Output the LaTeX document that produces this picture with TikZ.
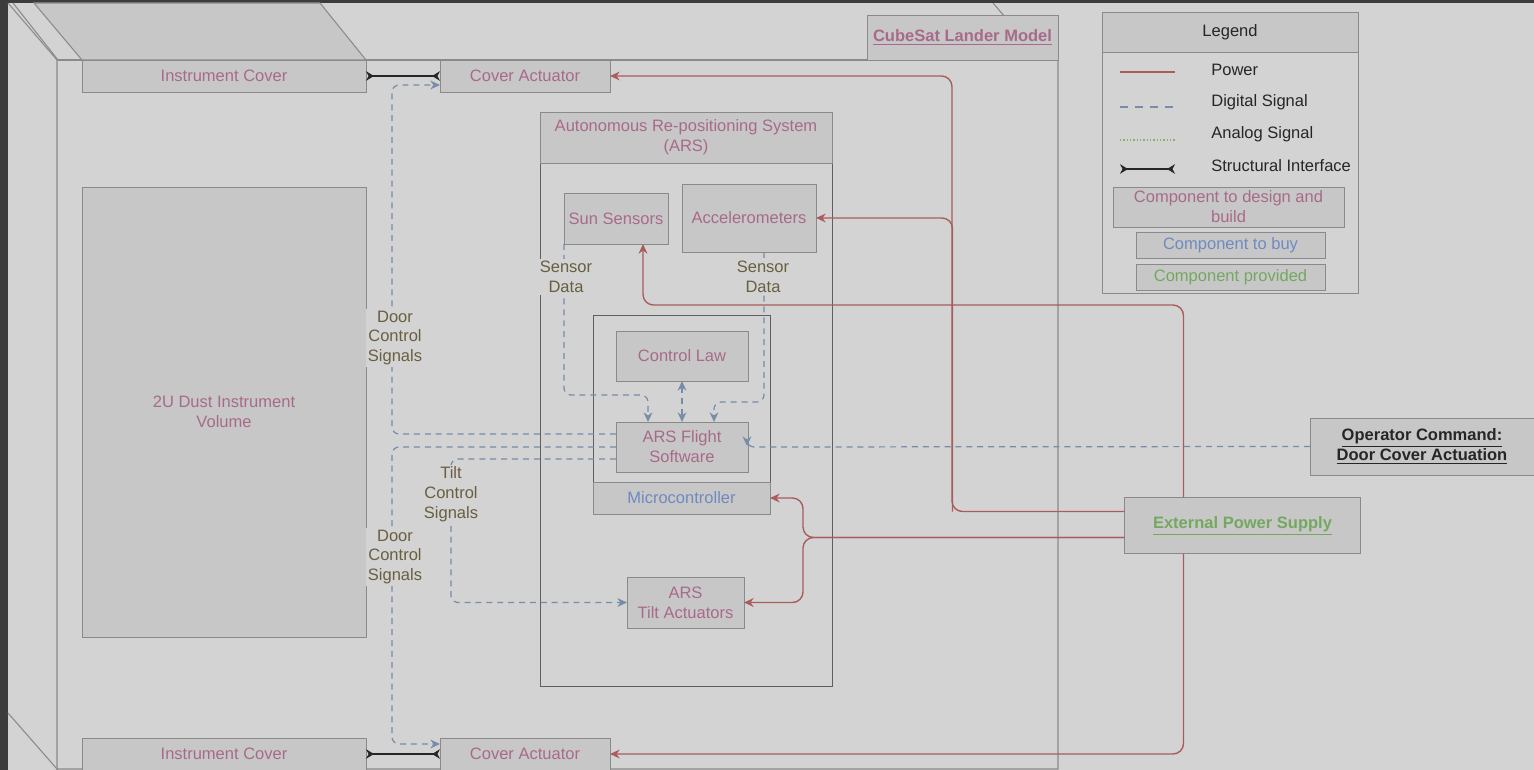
\documentclass[tikz,border=0pt]{standalone}
\usepackage{fontspec}
\setmainfont{Liberation Sans}
\usepackage{xcolor}
\usetikzlibrary{arrows.meta,calc,positioning}

\definecolor{frame}{RGB}{60,60,60}
\definecolor{canvas}{RGB}{211,211,211}
\definecolor{boxgray}{RGB}{199,199,199}
\definecolor{edgegray}{RGB}{138,138,138}
\definecolor{darkedge}{RGB}{95,95,95}
\definecolor{design}{RGB}{168,106,138}
\definecolor{buy}{RGB}{112,138,192}
\definecolor{provided}{RGB}{116,168,96}
\definecolor{powerred}{RGB}{170,92,92}
\definecolor{digiblue}{RGB}{118,140,168}
\definecolor{analoggreen}{RGB}{128,178,108}
\definecolor{labelolive}{RGB}{104,94,64}

\tikzset{%
	boxsize/.style 2 args = {minimum width=#1*0.02cm, minimum height=#2*0.02cm},
	comp/.style      = {draw=edgegray, fill=boxgray, inner sep=0pt, outer sep=0pt, text=design, align=center},
	container/.style = {draw=darkedge, inner sep=0pt, outer sep=0pt},
	sig/.style       = {fill=canvas, text=labelolive, align=center, inner sep=1pt},
	power/.style     = {draw=powerred, line width=0.8pt, rounded corners=6pt, -{Stealth[length=5.5pt,width=5pt]}},
	digital/.style   = {draw=digiblue, line width=0.7pt, dash pattern=on 3.4pt off 2.8pt, rounded corners=4pt, -{Stealth[length=5.5pt,width=5pt]}},
	analog/.style    = {draw=analoggreen, line width=1pt, dash pattern=on 0.8pt off 1.1pt},
	struct/.style    = {draw=black!85, line width=0.8pt, {Stealth[reversed,length=4.5pt,width=5.5pt]}-{Stealth[reversed,length=4.5pt,width=5.5pt]}},
	edge/.style      = {draw=edgegray, line width=0.6pt},
}

\begin{document}
\begin{tikzpicture}[x=0.02cm, y=-0.02cm, font=\fontsize{9.4}{11.3}\selectfont]
	\useasboundingbox (0,0) rectangle (1534,770);
	\fill[frame] (0,0) rectangle (1534,770);
	\fill[canvas] (8,3) rectangle (1534,770);
	
	% lander cube
	\draw[edge] (8,3) -- (57,60) -- (57,770);
	\draw[edge] (13,3) -- (58,60);
	\draw[edge] (8,713) -- (57,769) -- (1058,769) -- (1058,60);
	\draw[edge] (57,60) -- (867,60);
	\draw[edge] (993,3) -- (1040,58);
	\filldraw[edge, fill=boxgray] (34,3) -- (320,3) -- (366,60) -- (82,60) -- cycle;  % cover top face
	\node (tab) [comp, boxsize={191}{45}] at (962.5,37.5) {\underline{\textbf{CubeSat Lander Model}}};
	
	% components
	\node (ictop) [comp, boxsize={284}{32}] at (224,76) {Instrument Cover};
	\node (icbot) [comp, boxsize={284}{32}] at (224,754) {Instrument Cover};
	\node (catop) [comp, boxsize={170}{32}] at (525,76) {Cover Actuator};
	\node (cabot) [comp, boxsize={170}{32}] at (525,754) {Cover Actuator};
	\node (dust)  [comp, boxsize={284}{450}] at (224,412) {2U Dust Instrument\\Volume};
	
	\node (ars) [container, boxsize={292}{574}] at (686,399) {};
	\node (arshead) [comp, boxsize={292}{51}, below=0pt of ars.north] {Autonomous Re-positioning System\\(ARS)};
	\node (sun) [comp, boxsize={104}{51}] at (616,218.5) {Sun Sensors};
	\node (acc) [comp, boxsize={134}{68}] at (749,218) {Accelerometers};
	\node (mcu) [container, boxsize={177}{199}] at (681.5,414.5) {};
	\node (mcuband) [comp, boxsize={177}{32}, text=buy, above=0pt of mcu.south] {Microcontroller};
	\node (law) [comp, boxsize={132}{50}] at (682,356) {Control Law};
	\node (fsw) [comp, boxsize={132}{50}] at (682,447) {ARS Flight\\Software};
	\node (tilt) [comp, boxsize={117}{51}] at (685.5,602.5) {ARS\\Tilt Actuators};
	
	\node (op) [comp, boxsize={224}{57}, text=black!85] at (1422,446.5) {\textbf{\underline{Operator Command:}}\\\textbf{\underline{Door Cover Actuation}}};
	\node (eps) [comp, boxsize={236}{56}, text=provided] at (1242.5,525.5) {\textbf{\underline{External Power Supply}}};
	
	% legend
	\node (legend) [container, draw=edgegray, boxsize={256}{281}] at (1230,152.5) {};
	\node (leghead) [comp, boxsize={256}{40}, text=black!85, below=0pt of legend.north] {Legend};
	\foreach \y/\txt in {70/Power, 102/Digital Signal, 134/Analog Signal, 166/Structural Interface}
		\node (leg\y) [anchor=west, text=black!85, inner sep=0pt] at (1211,\y) {\txt};
	\draw[power, -] (1120,72) -- ++(55,0);
	\draw[digital, -, dash pattern=on 4.5pt off 4pt] (1120,107) -- ++(55,0);
	\draw[analog] (1120,140) -- ++(55,0);
	\draw[struct] (1120,169) -- ++(55,0);
	\node (legdesign) [comp, boxsize={231}{40}] at (1228.5,207) {Component to design and\\build};
	\node (legbuy) [comp, boxsize={189}{26}, text=buy] at (1230.5,245) {Component to buy};
	\node (legprov) [comp, boxsize={189}{26}, text=provided] at (1230.5,277) {Component provided};
	
	% structural interfaces
	\draw[struct] (ictop.east) -- (catop.west);
	\draw[struct] (icbot.east) -- (cabot.west);
	
	% power
	\draw[power] ($(eps.west)+(0,-14)$) -| ($(catop.east)+(342,0)$) -- (catop.east);
	\draw[power] ($(eps.west)+(-172,-14)$) |- (acc.east);
	\draw[power] ($(eps.north)+(-59,0)$) |- ($(sun.south)+(27,61)$) -- ($(sun.south)+(27,0)$);
	\draw[power] ($(eps.south)+(-59,0)$) |- (cabot.east);
	\draw[power] ($(eps.west)+(0,12)$) -| ($(mcuband.east)+(33,0)$) -- (mcuband.east);
	\draw[power] ($(eps.west)+(0,12)$) -| ($(tilt.east)+(59,0)$) -- (tilt.east);
	
	% digital signals
	\draw[digital] ($(fsw.west)+(0,-13)$) -| ($(catop.west)+(-48,9)$) -- ($(catop.west)+(0,9)$);
	\draw[digital] (fsw.west) -| ($(cabot.west)+(-48,-10)$) -- ($(cabot.west)+(0,-10)$);
	\draw[digital] ($(fsw.west)+(0,12)$) -| ($(tilt.west)+(-176,0)$) -- (tilt.west);
	\draw[digital] (sun.south west) |- ($(fsw.north)+(-34,-27)$) -- ($(fsw.north)+(-34,0)$);
	\draw[digital] ($(acc.south)+(15,0)$) |- ($(fsw.north)+(32,-20)$) -- ($(fsw.north)+(32,0)$);
	\draw[digital, {Stealth[length=5.5pt,width=5pt]}-{Stealth[length=5.5pt,width=5pt]}] (law.south) -- (fsw.north);
	\draw[digital] (op.west) -- ($(fsw.east)+(-1,0)$) -- ++(0,-1);
	
	% signal labels
	\node (doorup) [sig] at (395,338) {Door\\Control\\Signals};
	\node (doordn) [sig] at (395,557) {Door\\Control\\Signals};
	\node (tiltsig) [sig] at (451,494) {Tilt\\Control\\Signals};
	\node (sundata) [sig] at (566,277) {Sensor\\Data};
	\node (accdata) [sig] at (763,277) {Sensor\\Data};
\end{tikzpicture}
\end{document}
